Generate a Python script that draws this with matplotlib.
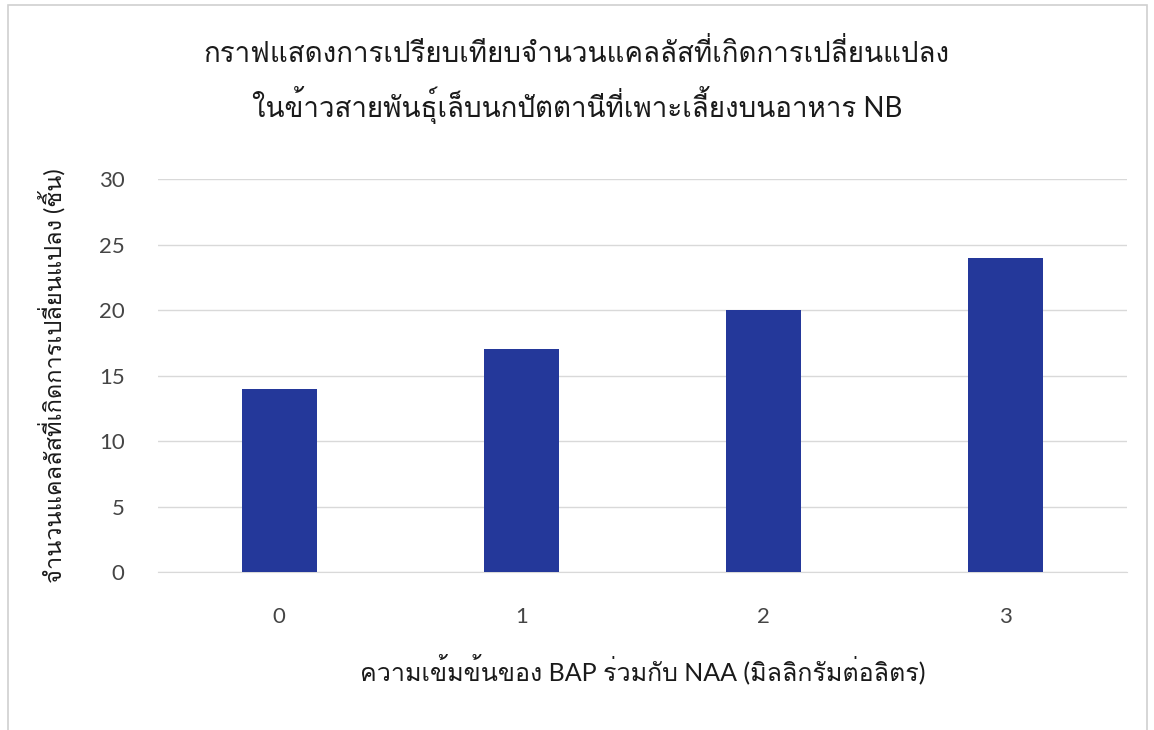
import matplotlib
matplotlib.use("Agg")
import matplotlib.pyplot as plt
from matplotlib.patches import Rectangle

# BAP + NAA concentration (mg/L) and number of changed calli
concentrations = ["0", "1", "2", "3"]
callus_counts = [14, 17, 20, 24]
y_ticks = [0, 5, 10, 15, 20, 25, 30]

title_lines = [
    "กราฟแสดงการเปรียบเทียบจำนวนแคลลัสที่เกิดการเปลี่ยนแปลง",
    "ในข้าวสายพันธุ์เล็บนกปัตตานีที่เพาะเลี้ยงบนอาหาร NB",
]
x_label = "ความเข้มข้นของ BAP ร่วมกับ NAA (มิลลิกรัมต่อลิตร)"
y_label = "จำนวนแคลลัสที่เกิดการเปลี่ยนแปลง (ชิ้น)"

# Lato for latin/digits, Loma for Thai (stacks tone marks without shaping)
fonts = ["Lato", "Loma", "DejaVu Sans"]
plt.rcParams["font.family"] = fonts
text_color = "#1a1a1a"
bar_color = "#24389a"

fig = plt.figure(figsize=(11.54, 7.3), dpi=100)
ax = fig.add_axes([0.1369, 0.2164, 0.8397, 0.5384])

x = range(len(concentrations))
ax.bar(x, callus_counts, width=0.31, color=bar_color, zorder=3)

ax.set_xlim(-0.5, len(concentrations) - 0.5)
ax.set_ylim(0, 30)
ax.set_yticks(y_ticks)
ax.set_xticks(list(x))
ax.set_xticklabels(concentrations)
ax.yaxis.grid(True, color="#d9d9d9", linewidth=1)
ax.set_axisbelow(True)
for side in ["top", "right", "left"]:
    ax.spines[side].set_visible(False)
ax.spines["bottom"].set_color("#d9d9d9")
ax.tick_params(axis="both", length=0, labelsize=16, labelcolor="#454545")
ax.tick_params(axis="x", pad=25)
ax.tick_params(axis="y", pad=24)

ax.set_xlabel(x_label, fontsize=18, color=text_color, labelpad=19)
ax.set_ylabel(y_label, fontsize=17, color=text_color, labelpad=24)

fig.text(0.5, 0.928, title_lines[0], ha="center", va="center", fontsize=20, color=text_color)
fig.text(0.5, 0.856, title_lines[1], ha="center", va="center", fontsize=20, color=text_color)

# thin outer chart border
fig.patches.append(Rectangle((0.007, -0.01), 0.987, 1.003, transform=fig.transFigure,
                             fill=False, edgecolor="#d0d0d0", linewidth=1.2))

fig.savefig("out.png", dpi=100)
